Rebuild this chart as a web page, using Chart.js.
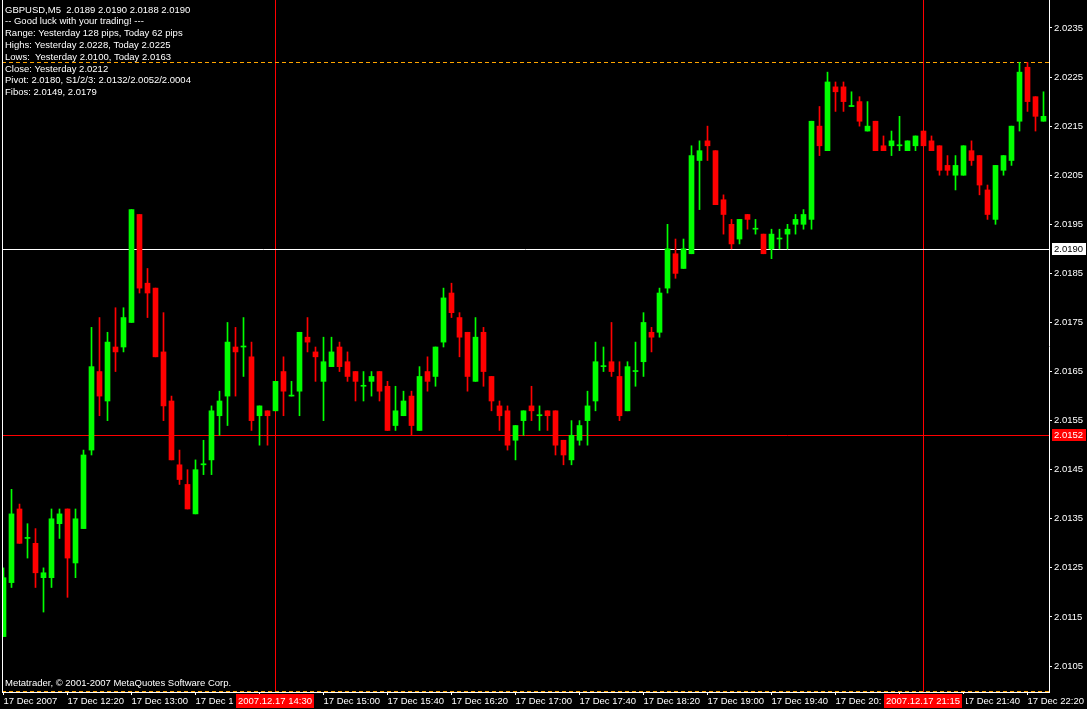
<!DOCTYPE html>
<html>
<head>
<meta charset="utf-8">
<script src="https://cdn.jsdelivr.net/npm/chart.js@4.4.0/dist/chart.umd.min.js"></script>
<style>
  html, body { margin: 0; padding: 0; background: #000; }
</style>
</head>
<body>
<canvas id="chart" width="1087" height="709"></canvas>
<script>
// === Data: GBPUSD M5, 17 Dec 2007, bars from 11:40 ===
const opens = [
  2.0111, 2.0122, 2.0137, 2.0131, 2.0130, 2.0123, 2.0123, 2.0134, 2.0137, 2.0126,
  2.0133, 2.0149, 2.0165, 2.0159, 2.0170, 2.0170, 2.0175, 2.0197, 2.0183, 2.0182,
  2.0169, 2.0159, 2.0146, 2.0142, 2.0136, 2.0146, 2.0147, 2.0156, 2.0160, 2.0170,
  2.0170, 2.0168, 2.0156, 2.0157, 2.0157, 2.0165, 2.0160, 2.0161, 2.0172, 2.0169,
  2.0163, 2.0166, 2.0170, 2.0167, 2.0165, 2.0162, 2.0163, 2.0165, 2.0162, 2.0154,
  2.0156, 2.0160, 2.0153, 2.0165, 2.0164, 2.0171, 2.0181, 2.0176, 2.0173, 2.0163,
  2.0173, 2.0164, 2.0158, 2.0157, 2.0151, 2.0155, 2.0158, 2.0156, 2.0157, 2.0157,
  2.0151, 2.0147, 2.0151, 2.0155, 2.0159, 2.0166, 2.0167, 2.0164, 2.0157, 2.0165,
  2.0167, 2.0173, 2.0173, 2.0182, 2.0189, 2.0186, 2.0189, 2.0208, 2.0212, 2.0210,
  2.0200, 2.0195, 2.0192, 2.0197, 2.0194, 2.0193, 2.0190, 2.0192, 2.0193, 2.0195,
  2.0195, 2.0196, 2.0215, 2.0210, 2.0223, 2.0223, 2.0219, 2.0220, 2.0214, 2.0216,
  2.0211, 2.0211, 2.0211, 2.0210, 2.0211, 2.0214, 2.0212, 2.0211, 2.0207, 2.0205,
  2.0205, 2.0210, 2.0209, 2.0202, 2.0196, 2.0206, 2.0208, 2.0216, 2.0227, 2.0221,
  2.0216
];
const highs = [
  2.0125, 2.0141, 2.0138, 2.0134, 2.0133, 2.0125, 2.0137, 2.0137, 2.0137, 2.0137,
  2.0149, 2.0174, 2.0176, 2.0173, 2.0178, 2.0178, 2.0198, 2.0197, 2.0186, 2.0182,
  2.0177, 2.0160, 2.0149, 2.0145, 2.0147, 2.0151, 2.0158, 2.0161, 2.0175, 2.0174,
  2.0176, 2.0171, 2.0158, 2.0157, 2.0163, 2.0168, 2.0163, 2.0173, 2.0176, 2.0170,
  2.0172, 2.0172, 2.0171, 2.0169, 2.0165, 2.0165, 2.0165, 2.0165, 2.0163, 2.0162,
  2.0161, 2.0161, 2.0166, 2.0168, 2.0170, 2.0182, 2.0183, 2.0177, 2.0173, 2.0176,
  2.0174, 2.0164, 2.0159, 2.0158, 2.0154, 2.0157, 2.0162, 2.0158, 2.0157, 2.0157,
  2.0151, 2.0155, 2.0155, 2.0161, 2.0171, 2.0170, 2.0175, 2.0167, 2.0167, 2.0171,
  2.0177, 2.0174, 2.0182, 2.0195, 2.0192, 2.0192, 2.0211, 2.0212, 2.0215, 2.0210,
  2.0201, 2.0196, 2.0196, 2.0197, 2.0196, 2.0193, 2.0194, 2.0194, 2.0195, 2.0197,
  2.0198, 2.0216, 2.0219, 2.0226, 2.0224, 2.0224, 2.0222, 2.0221, 2.0220, 2.0216,
  2.0213, 2.0214, 2.0217, 2.0212, 2.0213, 2.0214, 2.0213, 2.0211, 2.0209, 2.0209,
  2.0211, 2.0212, 2.0209, 2.0203, 2.0207, 2.0209, 2.0215, 2.0228, 2.0228, 2.0221,
  2.0222
];
const lows = [
  2.0111, 2.0121, 2.0130, 2.0127, 2.0121, 2.0116, 2.0121, 2.0131, 2.0119, 2.0123,
  2.0133, 2.0148, 2.0156, 2.0155, 2.0165, 2.0169, 2.0175, 2.0181, 2.0176, 2.0168,
  2.0155, 2.0147, 2.0142, 2.0137, 2.0136, 2.0144, 2.0144, 2.0152, 2.0154, 2.0160,
  2.0164, 2.0153, 2.0150, 2.0150, 2.0157, 2.0156, 2.0160, 2.0156, 2.0169, 2.0163,
  2.0155, 2.0166, 2.0165, 2.0163, 2.0159, 2.0159, 2.0160, 2.0159, 2.0153, 2.0153,
  2.0156, 2.0152, 2.0153, 2.0161, 2.0162, 2.0170, 2.0176, 2.0168, 2.0161, 2.0163,
  2.0162, 2.0157, 2.0153, 2.0149, 2.0147, 2.0152, 2.0155, 2.0153, 2.0153, 2.0148,
  2.0146, 2.0146, 2.0150, 2.0150, 2.0157, 2.0165, 2.0164, 2.0155, 2.0157, 2.0162,
  2.0164, 2.0169, 2.0172, 2.0181, 2.0184, 2.0186, 2.0189, 2.0198, 2.0208, 2.0199,
  2.0193, 2.0190, 2.0191, 2.0194, 2.0193, 2.0189, 2.0188, 2.0190, 2.0190, 2.0193,
  2.0194, 2.0194, 2.0209, 2.0210, 2.0218, 2.0218, 2.0219, 2.0215, 2.0214, 2.0210,
  2.0210, 2.0209, 2.0210, 2.0210, 2.0210, 2.0211, 2.0210, 2.0205, 2.0205, 2.0202,
  2.0205, 2.0207, 2.0201, 2.0196, 2.0195, 2.0205, 2.0207, 2.0214, 2.0218, 2.0214,
  2.0216
];
const closes = [
  2.0123, 2.0136, 2.0130, 2.0131, 2.0124, 2.0124, 2.0135, 2.0136, 2.0127, 2.0135,
  2.0148, 2.0166, 2.0160, 2.0171, 2.0169, 2.0176, 2.0198, 2.0182, 2.0181, 2.0168,
  2.0158, 2.0147, 2.0143, 2.0137, 2.0145, 2.0146, 2.0157, 2.0159, 2.0171, 2.0169,
  2.0170, 2.0155, 2.0158, 2.0156, 2.0163, 2.0161, 2.0160, 2.0173, 2.0171, 2.0168,
  2.0167, 2.0169, 2.0166, 2.0164, 2.0163, 2.0162, 2.0164, 2.0161, 2.0153, 2.0157,
  2.0159, 2.0154, 2.0164, 2.0163, 2.0170, 2.0180, 2.0177, 2.0172, 2.0164, 2.0172,
  2.0165, 2.0159, 2.0156, 2.0150, 2.0154, 2.0157, 2.0157, 2.0156, 2.0156, 2.0150,
  2.0148, 2.0152, 2.0154, 2.0158, 2.0167, 2.0166, 2.0165, 2.0156, 2.0166, 2.0165,
  2.0175, 2.0172, 2.0181, 2.0190, 2.0185, 2.0190, 2.0209, 2.0210, 2.0211, 2.0199,
  2.0197, 2.0191, 2.0196, 2.0196, 2.0194, 2.0189, 2.0193, 2.0192, 2.0194, 2.0196,
  2.0197, 2.0216, 2.0211, 2.0224, 2.0222, 2.0220, 2.0219, 2.0216, 2.0215, 2.0210,
  2.0210, 2.0212, 2.0211, 2.0212, 2.0213, 2.0211, 2.0210, 2.0206, 2.0206, 2.0207,
  2.0211, 2.0208, 2.0203, 2.0197, 2.0207, 2.0209, 2.0215, 2.0226, 2.0220, 2.0217,
  2.0217
];

// x labels sit on every 8th bar (40 minutes)
const xTickBars = [0, 8, 16, 24, 32, 40, 48, 56, 64, 72, 80, 88, 96, 104, 112, 120, 128];
const xTickLabels = [
  "17 Dec 2007", "17 Dec 12:20", "17 Dec 13:00", "17 Dec 13:40", "17 Dec 14:20",
  "17 Dec 15:00", "17 Dec 15:40", "17 Dec 16:20", "17 Dec 17:00", "17 Dec 17:40",
  "17 Dec 18:20", "17 Dec 19:00", "17 Dec 19:40", "17 Dec 20:20", "17 Dec 21:00",
  "17 Dec 21:40", "17 Dec 22:20"
];
const yTicks = [2.0105, 2.0115, 2.0125, 2.0135, 2.0145, 2.0155, 2.0165, 2.0175,
  2.0185, 2.0195, 2.0205, 2.0215, 2.0225, 2.0235];

// horizontal levels and vertical markers
const bidLevel = 2.0190;
const lineLevel = 2.0152;
const yesterdayHigh = 2.0228;
const yesterdayLow = 2.0100;
const markerBars = [34, 115];
const markerLabels = ["2007.12.17 14:30", "2007.12.17 21:15"];

const infoLines = [
  "GBPUSD,M5  2.0189 2.0190 2.0188 2.0190",
  "-- Good luck with your trading! ---",
  "Range: Yesterday 128 pips, Today 62 pips",
  "Highs: Yesterday 2.0228, Today 2.0225",
  "Lows:  Yesterday 2.0100, Today 2.0163",
  "Close: Yesterday 2.0212",
  "Pivot: 2.0180, S1/2/3: 2.0132/2.0052/2.0004",
  "Fibos: 2.0149, 2.0179"
];
const copyright = "Metatrader, \u00a9 2001-2007 MetaQuotes Software Corp.";

const FONT = '"Liberation Sans", Arial, sans-serif';
const FONT_SIZE = 9.5;
const BULL = "#00ff00";
const BEAR = "#ff0000";

const colors = closes.map((c, i) => (c >= opens[i] ? BULL : BEAR));
const bodies = opens.map((o, i) => ({ x: i, y: [o, closes[i]] }));
const wicks = lows.map((l, i) => ({ x: i, y: [l, highs[i]] }));

// === Overlay: levels, markers, text ===
function hLine(ctx, area, py, color, dash) {
  const yy = Math.round(py) + 0.5;
  ctx.strokeStyle = color;
  ctx.lineWidth = 1;
  ctx.setLineDash(dash || []);
  ctx.beginPath();
  ctx.moveTo(area.left, yy);
  ctx.lineTo(area.right, yy);
  ctx.stroke();
  ctx.setLineDash([]);
}

function priceBox(ctx, py, text, bg, fg) {
  const yy = Math.round(py);
  ctx.fillStyle = bg;
  ctx.fillRect(1052, yy - 6, 34, 12);
  ctx.fillStyle = fg;
  ctx.font = FONT_SIZE + "px " + FONT;
  ctx.textAlign = "left";
  ctx.textBaseline = "middle";
  ctx.fillText(text, 1054, yy + 0.5);
}

const overlay = {
  id: "overlay",
  beforeDatasetsDraw(chart) {
    const { ctx, chartArea: a, scales: { x, y } } = chart;
    ctx.save();
    markerBars.forEach((b) => {
      const xx = Math.floor(x.getPixelForValue(b)) + 0.5;
      ctx.strokeStyle = "#ff0000";
      ctx.lineWidth = 1;
      ctx.beginPath();
      ctx.moveTo(xx, a.top);
      ctx.lineTo(xx, a.bottom);
      ctx.stroke();
    });
    hLine(ctx, a, y.getPixelForValue(bidLevel), "#ffffff");
    hLine(ctx, a, y.getPixelForValue(lineLevel), "#ff0000");
    hLine(ctx, a, y.getPixelForValue(yesterdayHigh), "#ffa500", [4, 3]);
    hLine(ctx, a, y.getPixelForValue(yesterdayLow), "#ffa500", [4, 3]);
    ctx.restore();
  },
  afterDraw(chart) {
    const { ctx, chartArea: a, scales: { x, y } } = chart;
    ctx.save();
    // left frame
    ctx.strokeStyle = "#ffffff";
    ctx.lineWidth = 1;
    ctx.beginPath();
    ctx.moveTo(a.left + 0.5, a.top);
    ctx.lineTo(a.left + 0.5, a.bottom);
    ctx.stroke();

    ctx.fillStyle = "#ffffff";
    ctx.font = FONT_SIZE + "px " + FONT;
    ctx.textAlign = "left";
    ctx.textBaseline = "middle";
    infoLines.forEach((t, k) => ctx.fillText(t, 5, 10 + k * 11.8));
    ctx.fillText(copyright, 5, 683);

    priceBox(ctx, y.getPixelForValue(bidLevel), bidLevel.toFixed(4), "#ffffff", "#000000");
    priceBox(ctx, y.getPixelForValue(lineLevel), lineLevel.toFixed(4), "#ff0000", "#ffffff");

    // time boxes under the vertical markers
    ctx.font = FONT_SIZE + "px " + FONT;
    markerBars.forEach((b, k) => {
      const xx = Math.floor(x.getPixelForValue(b));
      ctx.fillStyle = "#000000";
      ctx.fillRect(xx - 41, 694, 84, 15);
      ctx.fillStyle = "#ff0000";
      ctx.fillRect(xx - 39, 694, 78, 14);
      ctx.fillStyle = "#ffffff";
      ctx.textAlign = "center";
      ctx.fillText(markerLabels[k], xx, 701.5);
    });
    ctx.restore();
  }
};

new Chart(document.getElementById("chart"), {
  type: "bar",
  data: {
    datasets: [
      {
        label: "Body",
        data: bodies,
        backgroundColor: colors,
        borderWidth: 0,
        barThickness: 5,
        minBarLength: 1,
        grouped: false
      },
      {
        label: "Wick",
        data: wicks,
        backgroundColor: colors,
        borderWidth: 0,
        barThickness: 1,
        minBarLength: 1,
        grouped: false
      }
    ]
  },
  options: {
    responsive: false,
    animation: false,
    events: [],
    layout: { padding: { left: 2, top: 0, right: 0, bottom: 0 } },
    plugins: { legend: { display: false }, tooltip: { enabled: false } },
    scales: {
      x: {
        type: "linear",
        offset: false,
        min: -0.1875,
        max: 130.6875,
        afterBuildTicks: (s) => { s.ticks = xTickBars.map((v) => ({ value: v })); },
        afterFit: (s) => { s.height = 17; s.paddingLeft = 0; s.paddingRight = 0; },
        grid: { display: true, offset: false, drawOnChartArea: false, drawTicks: true, tickLength: 3, color: "#ffffff" },
        border: { display: true, color: "#ffffff" },
        ticks: {
          autoSkip: false,
          maxRotation: 0,
          minRotation: 0,
          align: "start",
          padding: 1,
          color: "#ffffff",
          font: { family: FONT, size: FONT_SIZE },
          callback: (v, i) => xTickLabels[i]
        }
      },
      y: {
        position: "right",
        min: 2.009971,
        max: 2.02407,
        afterBuildTicks: (s) => { s.ticks = yTicks.map((v) => ({ value: v })); },
        afterFit: (s) => { s.width = 38; s.paddingTop = 0; s.paddingBottom = 0; },
        grid: { display: true, drawOnChartArea: false, drawTicks: true, tickLength: 3, color: "#ffffff" },
        border: { display: true, color: "#ffffff" },
        ticks: {
          padding: 2,
          color: "#ffffff",
          font: { family: FONT, size: FONT_SIZE },
          callback: (v) => Number(v).toFixed(4)
        }
      }
    }
  },
  plugins: [overlay]
});
</script>
</body>
</html>
